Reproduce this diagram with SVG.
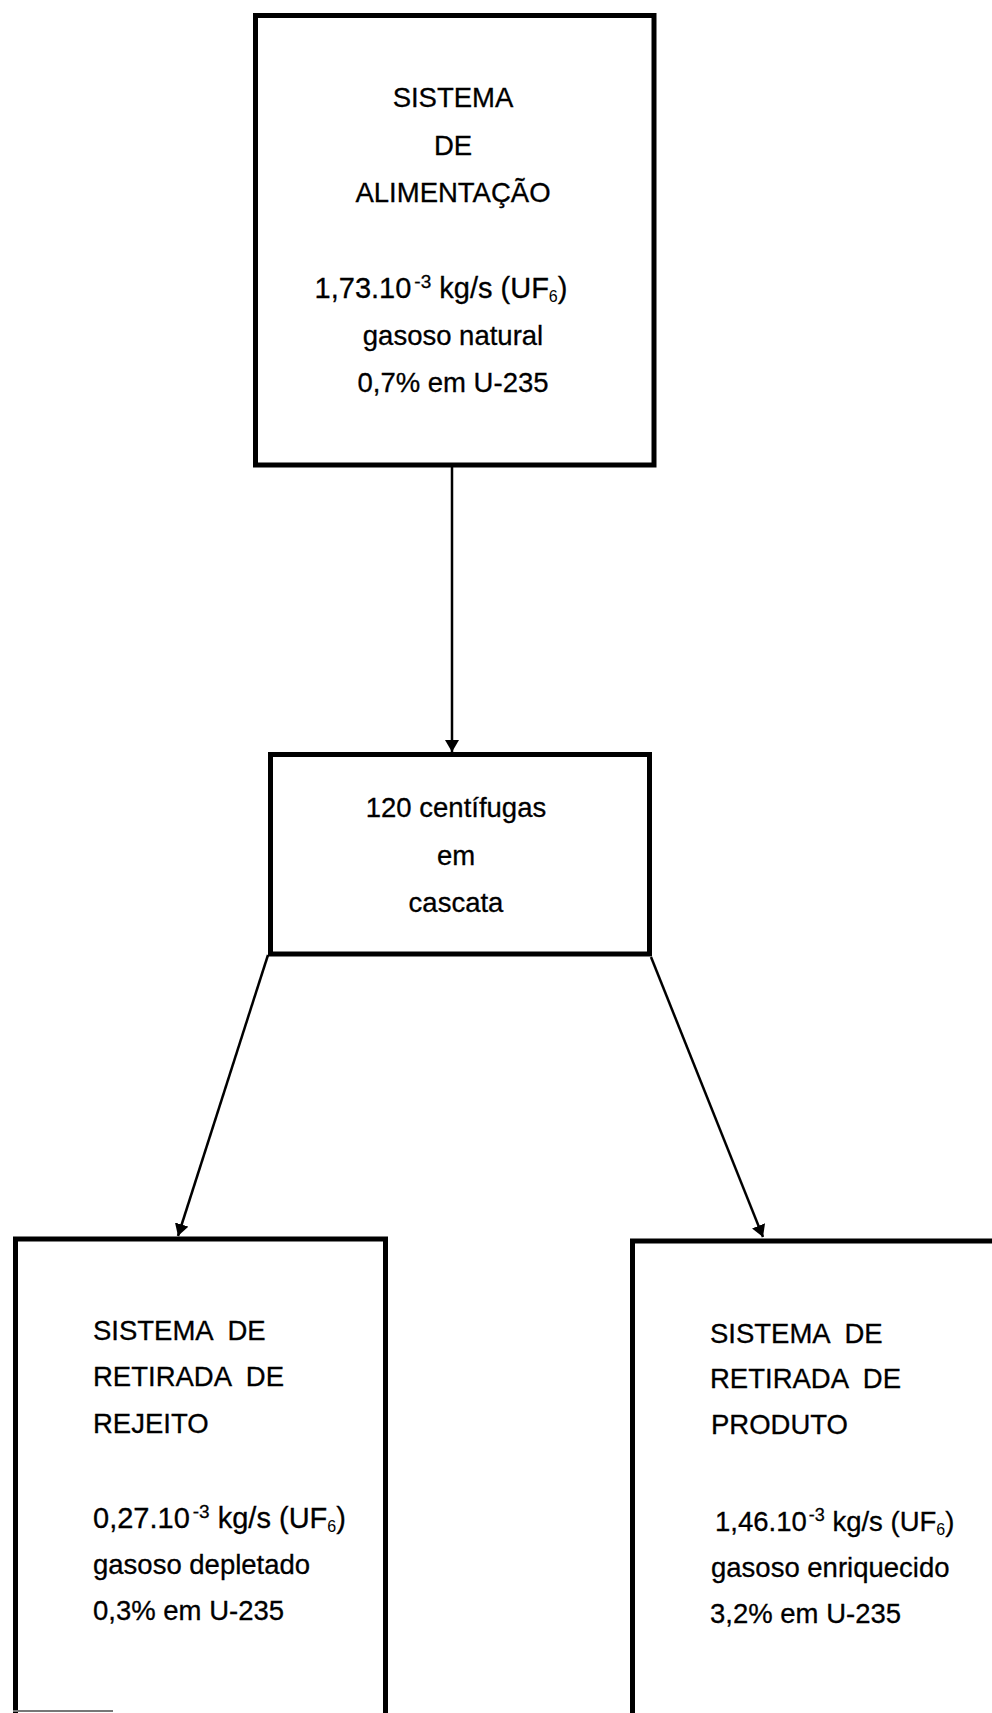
<svg xmlns="http://www.w3.org/2000/svg" width="992" height="1713" viewBox="0 0 992 1713">
  <style>
    .box { fill: #ffffff; stroke: #000000; stroke-width: 5; }
    .wire { fill: none; stroke: #000000; stroke-width: 2.5; }
    .t { font-family: "Liberation Sans", Arial, sans-serif; font-size: 27.5px; fill: #000000; stroke: #000000; stroke-width: 0.3; white-space: pre; }
    .c { text-anchor: middle; }
    .num { font-size: 29px; }
    .sup { font-size: 19px; }
    .sup2 { font-size: 18px; }
    .sub { font-size: 16px; stroke-width: 0; }
  </style>
  <defs>
    <marker id="arrow" viewBox="0 0 12 14" refX="12" refY="7" markerWidth="12" markerHeight="14" markerUnits="userSpaceOnUse" orient="auto">
      <path d="M0,0 L12,7 L0,14 Z" fill="#000000"/>
    </marker>
  </defs>
  <rect width="992" height="1713" fill="#ffffff"/>

  <!-- Connectors -->
  <g id="connectors">
    <line class="wire" x1="452" y1="467" x2="452" y2="752" marker-end="url(#arrow)"/>
    <line class="wire" x1="268" y1="955" x2="178" y2="1236" marker-end="url(#arrow)"/>
    <line class="wire" x1="651" y1="957" x2="763" y2="1237" marker-end="url(#arrow)"/>
  </g>

  <!-- Feed system -->
  <g id="alimentacao">
    <rect class="box" x="255.5" y="15.5" width="398.5" height="449.5"/>
    <text class="t c" x="453" y="107">SISTEMA</text>
    <text class="t c" x="453" y="155">DE</text>
    <text class="t c" x="453" y="202">ALIMENTAÇÃO</text>
    <text class="t c num" x="441" y="298">1,73.10<tspan class="sup" dx="3" dy="-10">-3</tspan><tspan dy="10"> kg/s (UF</tspan><tspan class="sub" dy="4">6</tspan><tspan dy="-4">)</tspan></text>
    <text class="t c" x="453" y="345">gasoso natural</text>
    <text class="t c" x="453" y="392">0,7% em U-235</text>
  </g>

  <!-- Centrifuge cascade -->
  <g id="cascata">
    <rect class="box" x="270.5" y="754.5" width="379" height="199.5"/>
    <text class="t c" x="456" y="817">120 centífugas</text>
    <text class="t c" x="456" y="865">em</text>
    <text class="t c" x="456" y="912">cascata</text>
  </g>

  <!-- Tails withdrawal -->
  <g id="rejeito">
    <rect class="box" x="15.5" y="1239" width="370" height="480"/>
    <line x1="13" y1="1711" x2="113" y2="1711" stroke="#777777" stroke-width="2"/>
    <text class="t" x="93" y="1340">SISTEMA  DE</text>
    <text class="t" x="93" y="1386">RETIRADA  DE</text>
    <text class="t" x="93" y="1433">REJEITO</text>
    <text class="t num" x="93" y="1528">0,27.10<tspan class="sup" dx="3" dy="-10">-3</tspan><tspan dy="10"> kg/s (UF</tspan><tspan class="sub" dy="4">6</tspan><tspan dy="-4">)</tspan></text>
    <text class="t" x="93" y="1574">gasoso depletado</text>
    <text class="t" x="93" y="1620">0,3% em U-235</text>
  </g>

  <!-- Product withdrawal -->
  <g id="produto">
    <rect class="box" x="632.5" y="1241" width="400" height="500"/>
    <text class="t" x="710" y="1343">SISTEMA  DE</text>
    <text class="t" x="710" y="1388">RETIRADA  DE</text>
    <text class="t" x="711" y="1434">PRODUTO</text>
    <text class="t" x="715" y="1531">1,46.10<tspan class="sup2" dx="2" dy="-10">-3</tspan><tspan dy="10"> kg/s (UF</tspan><tspan class="sub" dy="4">6</tspan><tspan dy="-4">)</tspan></text>
    <text class="t" x="711" y="1577">gasoso enriquecido</text>
    <text class="t" x="710" y="1623">3,2% em U-235</text>
  </g>
</svg>
